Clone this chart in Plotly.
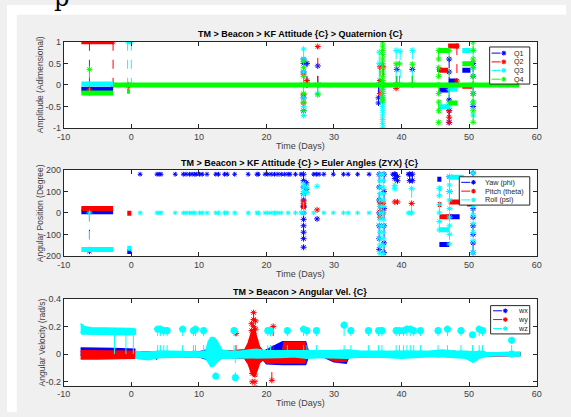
import plotly.graph_objects as go

W, H = 571, 417
BLUE, RED, CYAN, GREEN = '#0000ff', '#ff0000', '#00ffff', '#00ff00'
FONT = 'Liberation Sans, Arial, sans-serif'

# ---------------- tick values / labels ----------------
time_ticks = [-10, 0, 10, 20, 30, 40, 50, 60]
time_tick_labels = ['-10', '0', '10', '20', '30', '40', '50', '60']
quat_ticks = [-1, -0.5, 0, 0.5, 1]
quat_tick_labels = ['-1', '-0.5', '0', '0.5', '1']
euler_ticks = [-200, -100, 0, 100, 200]
euler_tick_labels = ['-200', '-100', '0', '100', '200']
omega_ticks = [-0.2, 0, 0.2, 0.4]
omega_tick_labels = ['-0.2', '0', '0.2', '0.4']

titles = ['TM > Beacon > KF Attitude {C} > Quaternion {C}',
          'TM > Beacon > KF Attitude {C} > Euler Angles (ZYX) {C}',
          'TM > Beacon > Angular Vel. {C}']
ylabels = ['Amplitude (Adimensional)', 'Angular Position (Degree)', 'Angular Velocity (rad/s)']
xlabel = 'Time (Days)'
quat_names = ['Q1', 'Q2', 'Q3', 'Q4']
euler_names = ['Yaw (phi)', 'Pitch (theta)', 'Roll (psi)']
omega_names = ['wx', 'wy', 'wz']

# ---------------- Panel 1 : quaternion ----------------
q1_band_t = [-7.4, -2.7, None, 45.3, 45.9, None, 45.6, 47.0, None, 47.0, 48.3, None, 49.0, 50.2]
q1_band_v = [-0.1, -0.1, None, 0.36, 0.36, None, -0.12, -0.12, None, 0.09, 0.09, None, 0.34, 0.34]
q2_band_t = [-7.4, -2.7, None, 45.6, 46.9, None, 46.9, 48.5, None, 49.0, 50.5]
q2_band_v = [1.0, 1.0, None, 0.34, 0.34, None, 0.9, 0.9, None, -0.03, -0.03]
q3_band_t = [-7.4, -2.7, None, -0.65, 0.0, None, 45.5, 47.0, None, 47.0, 48.3, None, 49.0, 50.2]
q3_band_v = [0.02, 0.02, None, 1.0, 1.0, None, -0.51, -0.51, None, -0.1, -0.1, None, 0.8, 0.8]
q4_band_t = [-7.4, -2.7, None, -2.7, 57.4, None, -0.65, -0.2, None, 45.5, 47.0, None, 47.0, 48.3, None, 49.0, 50.7]
q4_band_v = [-0.19, -0.19, None, 0.0, 0.0, None, -0.15, -0.15, None, 0.8, 0.8, None, -0.42, -0.42, None, 0.49, 0.49]

q1_spk_t = [25.5, 25.5, 25.5, 25.5, 25.5, 25.5, None, 26.0, 26.0, None, 27.6, 27.6, None,
            36.6, 36.6, 36.6, None, 39.3, 39.3, None, 41.6, 41.6, None,
            47.05, 47.05, 47.05, 47.05, 47.05, 47.05, None, 50.6, 50.6, 50.6, 50.6]
q1_spk_v = [0.6, 0.5, 0.3, 0.0, -0.3, -0.6, None, 0.0, 0.5, None, 0.0, 0.44, None,
            0.0, -0.3, -0.42, None, 0.0, 0.36, None, 0.0, 0.36, None,
            0.6, 0.3, 0.0, -0.35, -0.6, -0.87, None, 0.5, 0.2, -0.2, -0.5]
q2_spk_t = [-6.2, -6.2, None, -2.7, -2.7, None, -0.45, -0.45, None,
            25.5, 25.5, 25.5, 25.5, None, 26.0, 26.0, None, 27.6, 27.6, None,
            36.8, 36.8, 36.8, None, 37.3, 37.3, None, 39.2, 39.2, None,
            47.05, 47.05, 47.05, None, 48.2, 48.2]
q2_spk_v = [1.0, -0.1, None, 1.0, 0.0, None, 0.0, -0.03, None,
            0.25, 0.0, -0.23, -0.42, None, 0.0, 0.1, None, 0.0, 0.89, None,
            0.42, 0.1, -0.2, None, 0.42, 0.0, None, 0.0, -0.08, None,
            -0.6, -0.75, -0.87, None, 0.9, 0.09]
q3_spk_t = [-0.55, -0.55, None, 0.0, 0.0, None,
            25.5, 25.5, 25.5, 25.5, 25.5, 25.5, 25.5, None, 27.6, 27.6, None,
            36.7, 36.7, 36.7, None,
            37.2, 37.2, 37.2, 37.2, 37.2, 37.2, 37.2, 37.2, 37.2, 37.2, 37.2, None,
            39.2, 39.2, None, 39.8, 39.8, None, 41.6, 41.6, None,
            47.05, 47.05, None, 50.6, 50.6, 50.6, 50.6, 50.6]
q3_spk_v = [1.0, 0.0, None, 1.0, 0.0, None,
            0.83, 0.6, 0.3, 0.0, -0.3, -0.5, -0.71, None, 0.0, -0.2, None,
            0.76, 0.5, 0.0, None,
            0.0, -0.1, -0.2, -0.3, -0.4, -0.5, -0.6, -0.7, -0.8, -0.9, -1.0, None,
            0.8, 0.0, None, 0.78, 0.0, None, 0.8, 0.0, None,
            -0.1, -0.51, None, 0.8, 0.4, 0.0, -0.4, -0.7]
q4_spk_t = [-6.2, -6.2, None,
            25.5, 25.5, 25.5, 25.5, 25.5, 25.5, 25.5, None, 27.6, 27.6, None,
            37.2, 37.2, 37.2, 37.2, 37.2, 37.2, 37.2, 37.2, 37.2, 37.2, 37.2, 37.2, 37.2, 37.2, 37.2, None,
            39.2, 39.2, None, 39.7, 39.7, None, 41.6, 41.6, None,
            45.5, 45.5, 45.5, 45.5, 45.5, 45.5, 45.5, 45.5, 45.5, None,
            47.05, 47.05, None,
            50.6, 50.6, 50.6, 50.6, 50.6, 50.6, 50.6, 50.6, 50.6, 50.6]
q4_spk_v = [0.36, -0.19, None,
            0.55, 0.4, 0.2, 0.0, -0.2, -0.4, -0.6, None, 0.0, -0.23, None,
            1.0, 0.9, 0.8, 0.7, 0.6, 0.5, 0.4, 0.3, 0.2, 0.1, 0.0, -0.1, -0.2, -0.3, -0.37, None,
            0.0, 0.49, None, 0.0, 0.49, None, 0.0, 0.48, None,
            0.8, 0.6, 0.4, 0.2, 0.0, -0.2, -0.4, -0.6, -0.87, None,
            0.8, -0.42, None,
            1.0, 0.8, 0.6, 0.4, 0.2, 0.0, -0.2, -0.4, -0.6, -0.87]

# ---------------- Panel 2 : Euler angles ----------------
yaw_band_t = [-7.4, -2.7, None, -0.6, 0.0, None, 45.3, 45.9, None, 45.6, 47.1, None, 47.1, 48.6]
yaw_band_v = [5, 5, None, -180, -180, None, 157, 157, None, -147, -147, None, -18, -18]
pitch_band_t = [-7.4, -2.7, None, -0.6, 0.0, None, 45.4, 45.9, None, 45.6, 47.1, None, 47.0, 49.7, None, 49.7, 50.6]
pitch_band_v = [21, 21, None, -2, -2, None, 39, 39, None, -18, -18, None, 51, 51, None, 41, 41]
roll_band_t = [-7.4, -2.7, None, -0.6, 0.0, None, 45.5, 45.9, None, 45.6, 47.1, None, 47.0, 49.2]
roll_band_v = [-170, -170, None, -165, -165, None, 114, 114, None, -79, -79, None, 166, 166]

yaw_pts_t = [1.3, 3.8, 4.1, 4.4, 6.5, 7.7, 8.1, 8.6, 9.0, 9.4, 9.6, 10.1, 10.5, 11.2, 12.5, 12.9,
             13.8, 14.2, 15.3, 17.3, 18.6, 18.8, 19.8, 20.2, 20.7, 21.2, 21.7, 22.2, 22.7, 23.2,
             23.5, 24.3, 25.1, 27.0, 27.4, 27.8, 28.5, 29.9, 31.4, 32.1, 33.5, 35.2, 38.7, 39.1, 41.0, 41.4]
yaw_pts_v = [180, 180, 180, 180, 180, 180, 180, 180, 180, 180, 180, 180, 180, 180, 180, 180,
             180, 180, 180, 180, 180, 180, 180, 180, 180, 180, 180, 180, 180, 180,
             180, 180, 180, 180, 180, 180, 180, 180, 180, 180, 180, 180, 180, 180, 180, 180]
roll_pts_t = [1.3, 3.8, 4.1, 4.4, 6.5, 7.7, 8.1, 8.6, 9.0, 9.4, 10.1, 10.5, 11.2, 12.5, 12.9,
              13.8, 14.2, 15.3, 17.3, 18.6, 18.8, 19.8, 20.2, 20.7, 21.2, 21.7, 22.2, 23.2,
              24.3, 25.1, 27.0, 28.5, 29.9, 31.4, 32.1, 33.5, 35.2, 41.0, 41.4]
roll_pts_v = [0, 0, 0, 0, 0, 0, 0, 0, 0, 0, 0, 0, 0, 0, 0,
              0, 0, 0, 0, 0, 0, 0, 0, 0, 0, 0, 0, 0,
              0, 0, 0, 0, 0, 0, 0, 0, 0, 0, 0]

yaw_spk_t = [-6.2, -6.2, None,
             25.5, 25.5, 25.5, 25.5, 25.5, 25.5, 25.5, 25.5, 25.5, 25.5, 25.5, 25.5, None,
             25.9, 25.9, None, 27.5, None,
             36.7, 36.7, 36.7, 36.7, 36.7, 36.7, 36.7, None,
             37.4, 37.4, 37.4, 37.4, 37.4, 37.4, None,
             39.0, 39.0, None, 39.4, 39.4, None, 41.2, 41.2, None, 41.6, 41.6, None,
             47.1, 47.1, 47.1, None,
             50.6, 50.6, 50.6, 50.6, 50.6, 50.6, 50.6, 50.6, 50.6, 50.6]
yaw_spk_v = [5, -178, None,
             180, 150, 120, 90, 60, 30, 0, -30, -60, -90, -120, -160, None,
             140, 110, None, -28, None,
             180, 120, 60, 0, -60, -120, -170, None,
             180, 100, 20, -60, -140, -185, None,
             180, 160, None, 170, 150, None, 180, 150, None, 180, 150, None,
             168, 100, -18, None,
             186, 140, 100, 60, 20, -20, -60, -100, -140, -185]
pitch_spk_t = [25.5, 25.5, 25.5, 25.5, None, 27.5, None, 36.8, 36.8, 36.8, 36.8, None,
               37.3, 37.3, None, 39.0, None, 39.4, None, 41.5]
pitch_spk_v = [55, 45, 35, 25, None, 14, None, 50, 30, 5, -20, None,
               45, 0, None, 51, None, 51, None, 44]
roll_spk_t = [-6.2, -6.2, None,
              25.5, 25.5, 25.5, 25.5, 25.5, None, 26.0, 26.0, None, 27.5, None,
              36.8, 36.8, 36.8, 36.8, 36.8, 36.8, 36.8, 36.8, 36.8, 36.8, 36.8, 36.8, 36.8, None,
              37.3, 37.3, 37.3, 37.3, 37.3, 37.3, 37.3, 37.3, 37.3, 37.3, 37.3, 37.3, 37.3, None,
              39.0, 39.0, None, 41.5, 41.5, None,
              45.6, 45.6, 45.6, 45.6, 45.6, 45.6, None,
              47.1, 47.1, 47.1, 47.1, 47.1, 47.1, 47.1, 47.1, 47.1, None,
              50.6, 50.6, 50.6, 50.6, 50.6, 50.6, 50.6, 50.6, 50.6, 50.6]
roll_spk_v = [0, -170, None,
              135, 120, 100, 85, 0, None, 120, 95, None, 124, None,
              180, 150, 120, 90, 60, 30, 0, -30, -60, -90, -120, -150, -190, None,
              180, 150, 120, 90, 60, 30, 0, -30, -60, -90, -120, -150, -190, None,
              127, 113, None, 113, 0, None,
              114, 80, 40, 0, -40, -79, None,
              168, 130, 100, 60, 20, -20, -60, -100, -145, None,
              186, 150, 110, 70, 30, -10, -50, -90, -130, -185]

# ---------------- Panel 3 : angular velocity (noise envelopes + spikes) ----------------
wx_env_t = [-7.5, -5.0, -2.5, 0.5, None,
            0.5, 10.0, 12.0, 12.5, 13.0, 13.5, 16.8, 17.8, 18.6, 19.5, 20.0, 22.4, 25.8, 26.2,
            28.4, 30.0, 31.8, 32.2, 57.5]
wx_env_hi = [0.045, 0.04, 0.04, 0.035, None,
             0.015, 0.015, 0.04, 0.05, 0.04, 0.015, 0.03, 0.1, 0.07, 0.02, 0.03, 0.09, 0.09, 0.02,
             0.01, 0.0, 0.0, 0.01, 0.01]
wx_env_lo = [-0.01, -0.01, -0.01, -0.01, None,
             -0.02, -0.02, -0.05, -0.06, -0.04, -0.02, -0.03, -0.1, -0.07, -0.04, -0.07, -0.075, -0.075, -0.02,
             -0.02, -0.055, -0.065, -0.02, -0.01]
wy_env_t = [-7.5, -5.0, -2.5, 0.5, None,
            0.5, 3.4, 3.7, 4.0, 10.0, 16.8, 17.3, 17.8, 18.2, 18.6, 19.0, 19.5, 20.0, 22.4, 22.6,
            24.0, 25.7, 25.9, 28.4, 29.5, 30.5, 31.8, 32.2, 45.0, 47.3, 47.9, 48.2, 57.5]
wy_env_hi = [0.025, 0.025, 0.025, 0.02, None,
             0.01, 0.01, 0.01, 0.01, 0.01, 0.03, 0.08, 0.16, 0.19, 0.11, 0.05, 0.02, 0.015, 0.02, 0.085,
             0.085, 0.085, 0.02, 0.01, 0.0, -0.01, -0.01, 0.01, 0.01, 0.02, 0.02, 0.01, 0.01]
wy_env_lo = [-0.035, -0.035, -0.035, -0.03, None,
             -0.015, -0.015, -0.035, -0.015, -0.015, -0.03, -0.07, -0.14, -0.16, -0.12, -0.06, -0.04, -0.065, -0.065, -0.065,
             -0.065, -0.065, -0.02, -0.015, -0.04, -0.055, -0.05, -0.015, -0.015, -0.015, -0.015, -0.015, -0.01]
wz_env_t = [-7.5, -7.3, -7.0, -6.0, -5.0, -4.0, -3.0, -2.0, -1.0, 0.0, 0.6, None,
            0.6, 1.5, 2.5, 3.5, 4.5, 6.0, 8.0, 10.0, 11.0, 11.4, 11.8, 12.2, 12.6, 13.0, 13.4, 14.5,
            16.0, 17.5, 18.5, 20.0, 22.0, 24.0, 26.0, 28.0, 30.0, 32.0, 34.0, 36.0, 38.0, 40.0,
            42.0, 44.0, 46.0, 48.0, 49.5, 50.6, 51.5, 52.5, 54.0, 56.0, 57.5]
wz_env_hi = [0.22, 0.21, 0.2, 0.19, 0.19, 0.19, 0.19, 0.185, 0.185, 0.185, 0.18, None,
             0.02, 0.015, 0.015, 0.02, 0.02, 0.02, 0.015, 0.015, 0.02, 0.09, 0.12, 0.12, 0.1, 0.06, 0.03, 0.02,
             0.02, 0.03, 0.035, 0.025, 0.025, 0.02, 0.025, 0.02, 0.025, 0.03, 0.02, 0.02, 0.02, 0.02,
             0.025, 0.02, 0.03, 0.02, 0.02, 0.015, 0.02, 0.01, 0.01, 0.01, 0.015]
wz_env_lo = [0.16, 0.145, 0.14, 0.14, 0.14, 0.14, 0.14, 0.14, 0.14, 0.14, 0.145, None,
             -0.03, -0.035, -0.04, -0.03, -0.025, -0.025, -0.02, -0.02, -0.03, -0.06, -0.09, -0.085, -0.06, -0.04, -0.03, -0.025,
             -0.025, -0.03, -0.03, -0.025, -0.025, -0.02, -0.03, -0.025, -0.025, -0.03, -0.02, -0.02, -0.025, -0.03,
             -0.025, -0.02, -0.02, -0.025, -0.03, -0.06, -0.03, -0.015, -0.01, -0.01, -0.015]

wy_spk_t = [15.5, 15.5, None,
            17.8, 17.8, 17.8, None, 18.1, 18.1, 18.1, 18.1, 18.1, None, 18.4, 18.4, 18.4, None,
            17.9, 17.9, 17.9, None, 18.3, 18.3, 18.3, 18.3, None,
            20.8, 20.8, None, 21.0, 21.0]
wy_spk_v = [0.0, 0.15, None,
            0.1, 0.17, 0.22, None, 0.1, 0.15, 0.2, 0.25, 0.3, None, 0.1, 0.18, 0.24, None,
            -0.08, -0.14, -0.2, None, -0.1, -0.15, -0.2, -0.24, None,
            0.0, -0.19, None, 0.0, 0.2]
wz_drop_t = [-2.5, -2.5, None, -0.8, -0.8, None, 0.3, 0.3]
wz_drop_v = [0.15, 0.0, None, 0.15, 0.0, None, 0.15, 0.0]
wz_spk_t = [3.9, 3.9, None, 4.3, 4.3, None, 4.8, 4.8, None, 5.3, 5.3, None, 7.6, 7.6, None,
            9.2, 9.2, None, 9.5, 9.5, None, 10.7, 10.7, None, 12.5, 12.5, None, 15.2, 15.2, None,
            15.4, 15.4, None, 20.2, 20.2, None, 20.6, 20.6, None, 23.1, 23.1, None, 25.5, 25.5, None,
            26.0, 26.0, None, 27.4, 27.4, None, 31.5, 31.5, None, 32.5, 32.5, None, 35.1, 35.1, None,
            36.6, 36.6, None, 37.1, 37.1, None, 39.2, 39.2, None, 39.7, 39.7, None, 40.3, 40.3, None,
            40.8, 40.8, None, 41.3, 41.3, None, 41.8, 41.8, None, 42.8, 42.8, None, 45.4, 45.4, None,
            46.8, 46.8, None, 48.8, 48.8, None, 50.5, 50.5, None, 51.5, 51.5, None, 52.0, 52.0, None,
            56.3, 56.3]
wz_spk_v = [0.0, 0.18, None, 0.0, 0.18, None, 0.0, 0.17, None, 0.0, 0.17, None, 0.0, 0.18, None,
            0.0, 0.17, None, 0.0, 0.18, None, 0.0, 0.17, None, 0.0, -0.16, None, 0.0, 0.17, None,
            0.0, -0.17, None, 0.0, 0.17, None, 0.0, 0.17, None, 0.0, 0.17, None, 0.0, 0.18, None,
            0.0, 0.17, None, 0.0, 0.17, None, 0.0, 0.21, None, 0.0, 0.17, None, 0.0, 0.17, None,
            0.0, 0.17, None, 0.0, 0.17, None, 0.0, 0.17, None, 0.0, 0.17, None, 0.0, 0.17, None,
            0.0, 0.18, None, 0.0, 0.18, None, 0.0, 0.17, None, 0.0, 0.17, None, 0.0, 0.17, None,
            0.0, 0.18, None, 0.0, 0.17, None, 0.0, 0.14, None, 0.0, 0.18, None, 0.0, 0.17, None,
            0.0, 0.1]

# ---------------- layout geometry (pixels) ----------------
X0, X1 = 58, 541
PANELS = [(37.7, 126.0), (169.0, 257.0), (301.0, 390.0)]


def pxx(x):
    return x / W


def pxy(y):
    return 1 - y / H


fig = go.Figure()


def band(t, v, color, k, width=5):
    fig.add_trace(go.Scatter(x=t, y=v, mode='lines', line=dict(color=color, width=width),
                             xaxis='x' + k, yaxis='y' + k, showlegend=False, hoverinfo='skip'))


def spikes(t, v, color, k, size=5, lw=1.0):
    fig.add_trace(go.Scatter(x=t, y=v, mode='lines+markers',
                             line=dict(color=color, width=1, dash='dash'),
                             marker=dict(symbol='asterisk-open', size=size, color=color,
                                         line=dict(color=color, width=lw)),
                             xaxis='x' + k, yaxis='y' + k, showlegend=False, hoverinfo='skip'))


def drops(t, v, color, k):
    fig.add_trace(go.Scatter(x=t, y=v, mode='lines', line=dict(color=color, width=1),
                             xaxis='x' + k, yaxis='y' + k, showlegend=False, hoverinfo='skip'))


def points(t, v, color, k):
    fig.add_trace(go.Scatter(x=t, y=v, mode='markers',
                             marker=dict(symbol='asterisk-open', size=4, color=color,
                                         line=dict(color=color, width=1)),
                             xaxis='x' + k, yaxis='y' + k, showlegend=False, hoverinfo='skip'))


def envelope(t, lo, hi, color, k):
    xs, ys = [], []
    seg = []
    for i, tt in enumerate(t + [None]):
        if tt is None:
            if seg:
                xs += [t[j] for j in seg] + [t[j] for j in reversed(seg)] + [None]
                ys += [hi[j] for j in seg] + [lo[j] for j in reversed(seg)] + [None]
            seg = []
        else:
            seg.append(i)
    fig.add_trace(go.Scatter(x=xs, y=ys, mode='lines', fill='toself', fillcolor=color,
                             line=dict(color=color, width=1.5),
                             xaxis='x' + k, yaxis='y' + k, showlegend=False, hoverinfo='skip'))


# Panel 1
band(q1_band_t, q1_band_v, BLUE, '')
spikes(q1_spk_t, q1_spk_v, BLUE, '')
band(q2_band_t, q2_band_v, RED, '')
spikes(q2_spk_t, q2_spk_v, RED, '')
band(q3_band_t, q3_band_v, CYAN, '')
spikes(q3_spk_t, q3_spk_v, CYAN, '')
band(q4_band_t, q4_band_v, GREEN, '')
spikes(q4_spk_t, q4_spk_v, GREEN, '')

# Panel 2
band(yaw_band_t, yaw_band_v, BLUE, '2')
points(yaw_pts_t, yaw_pts_v, BLUE, '2')
spikes(yaw_spk_t, yaw_spk_v, BLUE, '2')
band(pitch_band_t, pitch_band_v, RED, '2')
spikes(pitch_spk_t, pitch_spk_v, RED, '2')
band(roll_band_t, roll_band_v, CYAN, '2')
points(roll_pts_t, roll_pts_v, CYAN, '2')
spikes(roll_spk_t, roll_spk_v, CYAN, '2')

# Panel 3
envelope(wx_env_t, wx_env_lo, wx_env_hi, BLUE, '3')
envelope(wy_env_t, wy_env_lo, wy_env_hi, RED, '3')
spikes(wy_spk_t, wy_spk_v, RED, '3')
envelope(wz_env_t, wz_env_lo, wz_env_hi, CYAN, '3')
drops(wz_drop_t, wz_drop_v, CYAN, '3')
spikes(wz_spk_t, wz_spk_v, CYAN, '3', size=6, lw=2.2)

axis_common = dict(showline=True, mirror='ticks', linecolor='#262626', linewidth=1,
                   ticks='inside', ticklen=4, tickcolor='#262626', showgrid=False,
                   zeroline=False, tickfont=dict(family=FONT, size=9, color='#404040'))

yticks = [(quat_ticks, quat_tick_labels, [-1, 1]),
          (euler_ticks, euler_tick_labels, [-200, 200]),
          (omega_ticks, omega_tick_labels, [-0.228, 0.4])]

layout = dict(width=W, height=H, margin=dict(l=0, r=0, t=0, b=0),
              paper_bgcolor='#f0f0f0', plot_bgcolor='white', showlegend=False)
for i, (top, bot) in enumerate(PANELS):
    k = '' if i == 0 else str(i + 1)
    layout['xaxis' + k] = dict(axis_common, domain=[pxx(X0), pxx(X1)], range=[-10, 60],
                               tickvals=time_ticks, ticktext=time_tick_labels,
                               anchor='y' + k)
    tv, tt, rg = yticks[i]
    layout['yaxis' + k] = dict(axis_common, domain=[pxy(bot), pxy(top)], range=rg,
                               tickvals=tv, ticktext=tt, anchor='x' + k)
fig.update_layout(**layout)

ann = []
shapes = []
# white strips of the page around the grey figure
shapes.append(dict(type='rect', xref='paper', yref='paper', x0=0, x1=1, y0=pxy(10), y1=1,
                   fillcolor='white', line=dict(width=0), layer='above'))
shapes.append(dict(type='rect', xref='paper', yref='paper', x0=0, x1=pxx(10), y0=0, y1=1,
                   fillcolor='white', line=dict(width=0), layer='above'))
ann.append(dict(text='p', x=pxx(56), y=pxy(-7), xref='paper', yref='paper', showarrow=False,
                xanchor='center', yanchor='middle',
                font=dict(family='DejaVu Serif', size=24, color='black')))

title_y = [30, 162, 294]
xlabel_y = [144, 276, 408]
ylabel_x = [34, 34, 36]
for i, (top, bot) in enumerate(PANELS):
    ann.append(dict(text='<b>' + titles[i] + '</b>', x=pxx((X0 + X1) / 2), y=pxy(title_y[i]),
                    xref='paper', yref='paper', showarrow=False, xanchor='center', yanchor='middle',
                    font=dict(family=FONT, size=9, color='black')))
    ann.append(dict(text=xlabel, x=pxx((X0 + X1) / 2), y=pxy(xlabel_y[i]),
                    xref='paper', yref='paper', showarrow=False, xanchor='center', yanchor='middle',
                    font=dict(family=FONT, size=9, color='#404040')))
    ann.append(dict(text=ylabels[i], x=pxx(ylabel_x[i]), y=pxy((top + bot) / 2), textangle=-90,
                    xref='paper', yref='paper', showarrow=False, xanchor='center', yanchor='middle',
                    font=dict(family=FONT, size=8.5, color='#404040')))

# custom legends (box, dashed line with asterisk, label)
legends = [
    dict(box=(493, 534, 43, 81), rows=[49.3, 58.3, 67.0, 76.0], line=(495, 513), mk=507.5, tx=516,
         names=quat_names, colors=[BLUE, RED, CYAN, GREEN]),
    dict(box=(462, 534, 176, 205), rows=[181.7, 190.7, 199.7], line=(464, 481), mk=476.5, tx=486,
         names=euler_names, colors=[BLUE, RED, CYAN]),
    dict(box=(494, 534, 308, 337), rows=[313.3, 322.3, 331.5], line=(496.5, 515), mk=509, tx=520,
         names=omega_names, colors=[BLUE, RED, CYAN]),
]
for lg in legends:
    bx0, bx1, by0, by1 = lg['box']
    shapes.append(dict(type='rect', xref='paper', yref='paper', x0=pxx(bx0), x1=pxx(bx1),
                       y0=pxy(by1), y1=pxy(by0), fillcolor='white',
                       line=dict(color='#262626', width=1), layer='above'))
    for r, name, col in zip(lg['rows'], lg['names'], lg['colors']):
        shapes.append(dict(type='line', xref='paper', yref='paper', x0=pxx(lg['line'][0]),
                           x1=pxx(lg['line'][1]), y0=pxy(r), y1=pxy(r),
                           line=dict(color=col, width=1, dash='dash'), layer='above'))
        m, rr = lg['mk'], 2.4
        for dx, dy in [(rr, 0), (0, rr), (rr * 0.7, rr * 0.7), (rr * 0.7, -rr * 0.7)]:
            shapes.append(dict(type='line', xref='paper', yref='paper', x0=pxx(m - dx), x1=pxx(m + dx),
                               y0=pxy(r - dy), y1=pxy(r + dy), line=dict(color=col, width=1.1),
                               layer='above'))
        ann.append(dict(text=name, x=pxx(lg['tx']), y=pxy(r), xref='paper', yref='paper',
                        showarrow=False, xanchor='left', yanchor='middle',
                        font=dict(family=FONT, size=7.2, color='#262626')))

fig.update_layout(annotations=ann, shapes=shapes)
fig.write_html('out.html', config={'displayModeBar': False},
               post_script="document.body.style.margin='0px';document.body.style.overflow='hidden';")
